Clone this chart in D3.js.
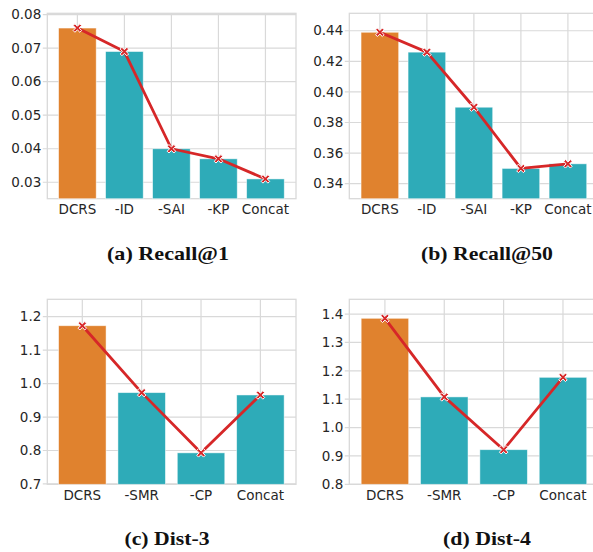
<!DOCTYPE html>
<html><head><meta charset="utf-8">
<script src="https://cdn.jsdelivr.net/npm/d3@7"></script>
<style>
html,body{margin:0;padding:0;background:#fff;}
svg{display:block;}
</style></head>
<body>
<svg id="chart" width="593" height="552"></svg>
<script>
// ---- data ----
const catsRecall = ["DCRS", "-ID", "-SAI", "-KP", "Concat"];
const recall1 = [0.076, 0.069, 0.040, 0.037, 0.031];
const recall50 = [0.439, 0.426, 0.390, 0.350, 0.353];
const catsDist = ["DCRS", "-SMR", "-CP", "Concat"];
const dist3 = [1.173, 0.973, 0.793, 0.966];
const dist4 = [1.385, 1.108, 0.922, 1.177];
const ticksRecall1 = [0.03, 0.04, 0.05, 0.06, 0.07, 0.08];
const ticksRecall50 = [0.34, 0.36, 0.38, 0.40, 0.42, 0.44];
const ticksDist3 = [0.7, 0.8, 0.9, 1.0, 1.1, 1.2];
const ticksDist4 = [0.8, 0.9, 1.0, 1.1, 1.2, 1.3, 1.4];
const captions = ["(a) Recall@1", "(b) Recall@50", "(c) Dist-3", "(d) Dist-4"];

const svg = d3.select("#chart");
const ORANGE = "#e0822e", TEAL = "#2eabb8", RED = "#d62728", GRID = "#d9d9d9", TXT = "#262626";

// custom filled X marker (matplotlib 'X')
const filledX = {
  draw(ctx, size) {
    const r = Math.sqrt(size) / 2, t = r * 0.42;
    const pts = [[0,-t],[r-t,-r],[r,-r+t],[t,0],[r,r-t],[r-t,r],[0,t],[-r+t,r],[-r,r-t],[-t,0],[-r,-r+t],[-r+t,-r]];
    ctx.moveTo(pts[0][0], pts[0][1]);
    for (let i = 1; i < pts.length; i++) ctx.lineTo(pts[i][0], pts[i][1]);
    ctx.closePath();
  }
};

function panel(cfg) {
  const g = svg.append("g");
  const x = d3.scaleLinear().domain(cfg.xdom).range([cfg.left, cfg.left + 248.7]);
  const y = d3.scaleLinear().domain(cfg.ydom).range([cfg.bottom, cfg.top]);
  const idx = cfg.cats.map((c, i) => i);
  const bw = 0.8;

  // horizontal grid
  g.append("g").selectAll("line").data(cfg.ticks).join("line")
    .attr("x1", cfg.left - 4.5).attr("x2", cfg.left + 248.7)
    .attr("y1", d => y(d)).attr("y2", d => y(d))
    .attr("stroke", GRID).attr("stroke-width", 1.2);
  // vertical grid
  g.append("g").selectAll("line").data(idx).join("line")
    .attr("x1", d => x(d)).attr("x2", d => x(d))
    .attr("y1", cfg.top).attr("y2", cfg.bottom)
    .attr("stroke", GRID).attr("stroke-width", 1.2);
  // frame
  g.append("rect").attr("x", cfg.left).attr("y", cfg.top)
    .attr("width", 248.7).attr("height", cfg.bottom - cfg.top)
    .attr("fill", "none").attr("stroke", GRID).attr("stroke-width", 1.3);

  // bars
  g.append("g").selectAll("rect").data(cfg.values).join("rect")
    .attr("x", (d, i) => x(i - bw / 2))
    .attr("width", (d, i) => x(i + bw / 2) - x(i - bw / 2))
    .attr("y", d => y(d))
    .attr("height", d => cfg.bottom - y(d))
    .attr("fill", (d, i) => i === 0 ? ORANGE : TEAL)
    .attr("stroke", "#ffffff").attr("stroke-opacity", 0.6).attr("stroke-width", 0.8);

  // line
  const line = d3.line().x((d, i) => x(i)).y(d => y(d));
  g.append("path").datum(cfg.values).attr("d", line)
    .attr("fill", "none").attr("stroke", RED).attr("stroke-width", 2.8)
    .attr("stroke-linejoin", "round");
  // markers
  g.append("g").selectAll("path").data(cfg.values).join("path")
    .attr("transform", (d, i) => `translate(${x(i)},${y(d)})`)
    .attr("d", d3.symbol().type(filledX).size(72))
    .attr("fill", RED).attr("stroke", "#ffffff").attr("stroke-width", 1);

  // y tick labels
  g.append("g").selectAll("text").data(cfg.ticks).join("text")
    .attr("x", cfg.left - 6).attr("y", d => y(d)).attr("dy", "0.35em")
    .attr("text-anchor", "end")
    .attr("font-family", "DejaVu Sans").attr("font-size", 13.5).attr("fill", TXT)
    .text(d => d3.format(cfg.fmt)(d));
  // x tick labels
  g.append("g").selectAll("text").data(cfg.cats).join("text")
    .attr("x", (d, i) => x(i)).attr("y", cfg.bottom + 15.5)
    .attr("text-anchor", "middle")
    .attr("font-family", "DejaVu Sans").attr("font-size", 13.5).attr("fill", TXT)
    .text(d => d);

  // caption
  svg.append("text").attr("x", cfg.capX).attr("y", cfg.capY)
    .attr("text-anchor", "middle")
    .attr("font-family", "Liberation Serif").attr("font-weight", "bold")
    .attr("font-size", 19.5).attr("fill", "#111")
    .attr("textLength", cfg.capW).attr("lengthAdjust", "spacingAndGlyphs")
    .text(cfg.caption);
}

panel({cats: catsRecall, values: recall1, ticks: ticksRecall1, fmt: ".2f",
  left: 47.3, top: 13.3, bottom: 198.7, xdom: [-0.64, 4.65], ydom: [0.0251, 0.0804],
  caption: captions[0], capX: 168, capY: 260, capW: 122});
panel({cats: catsRecall, values: recall50, ticks: ticksRecall50, fmt: ".2f",
  left: 349.3, top: 13.3, bottom: 198.7, xdom: [-0.65, 4.64], ydom: [0.3302, 0.4514],
  caption: captions[1], capX: 487, capY: 260, capW: 132});
panel({cats: catsDist, values: dist3, ticks: ticksDist3, fmt: ".1f",
  left: 47.3, top: 299.3, bottom: 484.3, xdom: [-0.59, 3.6], ydom: [0.699, 1.252],
  caption: captions[2], capX: 167, capY: 545, capW: 85});
panel({cats: catsDist, values: dist4, ticks: ticksDist4, fmt: ".1f",
  left: 349.3, top: 299.3, bottom: 484.3, xdom: [-0.6, 3.59], ydom: [0.8, 1.452],
  caption: captions[3], capX: 487, capY: 545, capW: 88});
</script>
</body></html>
